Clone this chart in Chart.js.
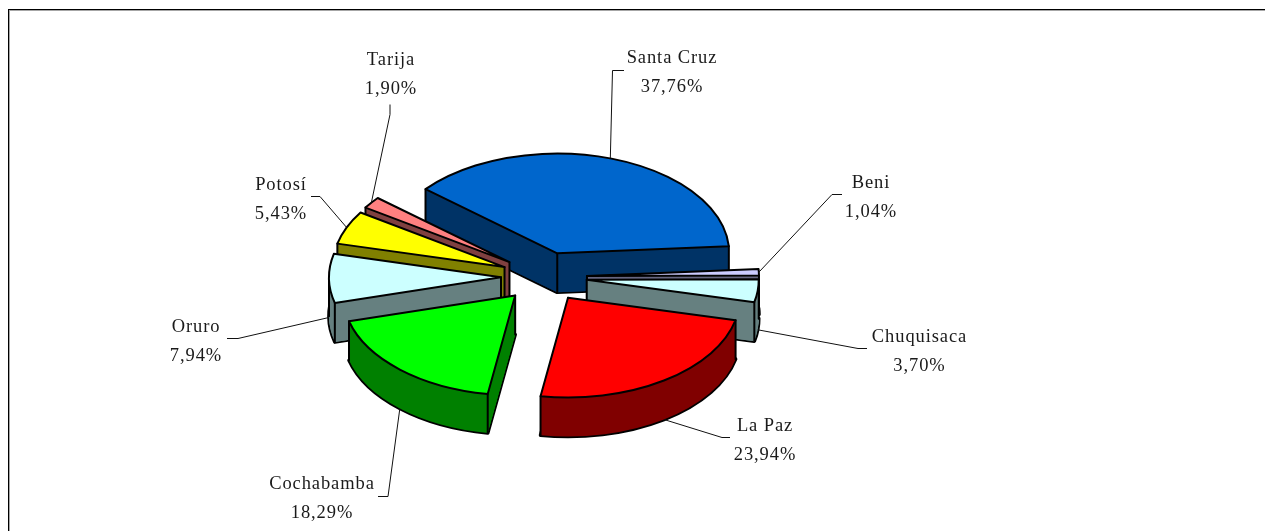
<!DOCTYPE html>
<html>
<head>
<meta charset="utf-8">
<style>html,body{margin:0;padding:0;background:#fff;overflow:hidden}canvas{display:block}</style>
<script src="https://cdn.jsdelivr.net/npm/chart.js@4"></script>
</head>
<body>
<canvas id="c" width="1265" height="531"></canvas>
<script>
const categories = ['Santa Cruz','Beni','Chuquisaca','La Paz','Cochabamba','Oruro','Potosí','Tarija'];
const shares = [37.76,1.04,3.70,23.94,18.29,7.94,5.43,1.90];
const topColors = ['#0066CC','#CCCCFF','#CCFFFF','#FF0000','#00FF00','#CCFFFF','#FFFF00','#FF8080'];
const sideColors = ['#003366','#666680','#668080','#800000','#008000','#668080','#808000','#804040'];

// Layout only (not data)
const paintOrder = [0,7,6,5,1,2,4,3];
const SQUASH = 0.58, DEPTH = 39, EXPLODE = 43;
const labelCenterX = [672,871,919.5,765,322,196,281,391];
const labelBaseY  = [63,188,342,431,489,332,190,65];
const LINE_GAP = 29;
const leaderElbow = [[612.5,70],[832,194],[858,348],[722,437],[388,496],[238,338],[320,196],[390,114]];
const leaderEnd   = [[624,70],[842,194],[867,348],[730,437],[378,496],[227,338],[311,196],[390,104]];

function geom(arc){
  const p = arc.getProps(['x','y','startAngle','endAngle','outerRadius'], true);
  const mid = (p.startAngle + p.endAngle) / 2;
  return {...p, mid, ax:p.x + EXPLODE*Math.cos(mid), ay:p.y + EXPLODE*SQUASH*Math.sin(mid)};
}
function rim(g, a, dy){
  return [g.ax + g.outerRadius*Math.cos(a), g.ay + g.outerRadius*SQUASH*Math.sin(a) + dy];
}
function wedge(ctx, g, dy){
  ctx.beginPath();
  ctx.moveTo(g.ax, g.ay + dy);
  ctx.ellipse(g.ax, g.ay + dy, g.outerRadius, g.outerRadius*SQUASH, 0, g.startAngle, g.endAngle);
  ctx.closePath();
}
function drawArcAt(ctx, arc, g, dy, color){
  const saved = arc.options;
  arc.options = Object.assign({}, saved, {backgroundColor: color, borderWidth: 0});
  ctx.save();
  ctx.translate(g.ax - g.x, g.ay + dy);
  ctx.scale(1, SQUASH);
  ctx.translate(0, -g.y);
  arc.draw(ctx);
  ctx.restore();
  arc.options = saved;
}
function inRange(a, g){
  const T = Math.PI*2;
  let x = a;
  while (x < g.startAngle) x += T;
  return x <= g.endAngle;
}

const pie3d = {
  id:'pie3d',
  beforeDraw(chart){
    const c = chart.ctx, W = chart.width, H = chart.height;
    c.save();
    c.fillStyle = '#a6a6a6';
    c.fillRect(9,10,W-9,1); c.fillRect(9,10,1,H-10);
    c.fillStyle = '#000';
    c.fillRect(8,9,W-8,1); c.fillRect(8,9,1,H-9);
    c.restore();
  },
  beforeDatasetDraw(chart){
    const ctx = chart.ctx, arcs = chart.getDatasetMeta(0).data;
    ctx.save();
    ctx.lineJoin = 'round';
    ctx.lineCap = 'round';
    for (const i of paintOrder){
      const arc = arcs[i], g = geom(arc);
      ctx.strokeStyle = '#000';
      ctx.fillStyle = sideColors[i];
      // silhouette of the base: the fill stack then hides its interior half
      ctx.lineWidth = 3.6;
      wedge(ctx, g, DEPTH); ctx.stroke();
      // vertical edges only where an adjacent wall faces the viewer
      const angles = [];
      if (Math.cos(g.startAngle) < 0 || Math.sin(g.startAngle) > 0) angles.push(g.startAngle);
      if (Math.cos(g.endAngle) > 0 || Math.sin(g.endAngle) > 0) angles.push(g.endAngle);
      if (inRange(0, g)) angles.push(0);
      if (inRange(Math.PI, g)) angles.push(Math.PI);
      for (let dy = DEPTH; dy >= 1; dy--) drawArcAt(ctx, arc, g, dy, sideColors[i]);
      // flat radial walls, solid right up to the wedge tip
      for (const a of [g.startAngle, g.endAngle]){
        const t = rim(g, a, 0), b = rim(g, a, DEPTH);
        ctx.beginPath();
        ctx.moveTo(g.ax, g.ay); ctx.lineTo(t[0], t[1]); ctx.lineTo(b[0], b[1]); ctx.lineTo(g.ax, g.ay + DEPTH);
        ctx.closePath(); ctx.fill();
      }
      ctx.lineWidth = 2;
      ctx.beginPath();
      ctx.moveTo(g.ax, g.ay); ctx.lineTo(g.ax, g.ay + DEPTH);
      for (const a of angles){
        const t = rim(g, a, 0), b = rim(g, a, DEPTH);
        ctx.moveTo(t[0], t[1]); ctx.lineTo(b[0], b[1]);
      }
      ctx.stroke();
      drawArcAt(ctx, arc, g, 0, topColors[i]);
      wedge(ctx, g, 0); ctx.stroke();
    }
    ctx.restore();
    return false;
  },
  afterDatasetsDraw(chart){
    const ctx = chart.ctx, arcs = chart.getDatasetMeta(0).data;
    ctx.save();
    ctx.strokeStyle = '#111'; ctx.lineWidth = 1;
    ctx.fillStyle = '#1a1a1a';
    ctx.textAlign = 'center'; ctx.textBaseline = 'alphabetic';
    ctx.font = '18.5px "Liberation Serif"';
    ctx.letterSpacing = '0.9px';
    arcs.forEach((arc,i) => {
      const g = geom(arc);
      const s = rim(g, g.mid, Math.sin(g.mid) > 0 ? DEPTH : 0);
      ctx.beginPath();
      ctx.moveTo(s[0], s[1]);
      ctx.lineTo(leaderElbow[i][0], leaderElbow[i][1] + .5);
      ctx.lineTo(leaderEnd[i][0], leaderEnd[i][1] + .5);
      ctx.stroke();
      ctx.fillText(categories[i], labelCenterX[i], labelBaseY[i]);
      ctx.fillText(shares[i].toFixed(2).replace('.',',') + '%', labelCenterX[i], labelBaseY[i] + LINE_GAP);
    });
    ctx.restore();
  }
};

new Chart(document.getElementById('c'), {
  type:'pie',
  data:{labels:categories, datasets:[{data:shares, backgroundColor:topColors, borderWidth:0}]},
  options:{
    responsive:false, maintainAspectRatio:false, animation:false,
    rotation:-50, radius:172,
    layout:{padding:{top:23, right:177}},
    plugins:{legend:{display:false}, tooltip:{enabled:false}}
  },
  plugins:[pie3d]
});
</script>
</body>
</html>
